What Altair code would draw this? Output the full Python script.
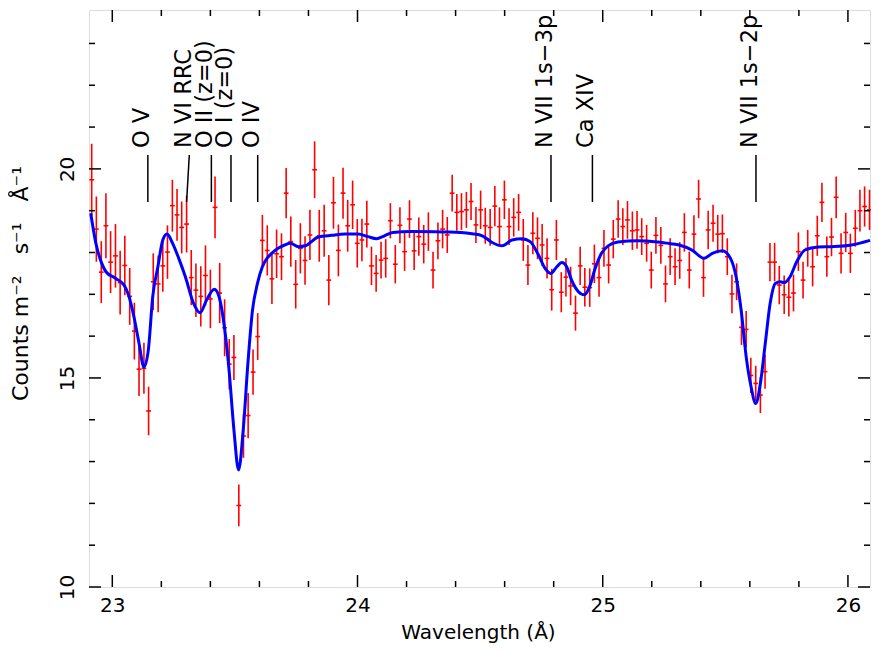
import altair as alt
import pandas as pd

# ---------------- data ----------------
wavelength = [
    22.916, 22.935, 22.955, 22.974, 22.993, 23.013, 23.032, 23.051, 23.071, 23.090,
    23.109, 23.129, 23.148, 23.167, 23.187, 23.206, 23.225, 23.245, 23.264, 23.283,
    23.303, 23.322, 23.341, 23.361, 23.380, 23.400, 23.419, 23.438, 23.458, 23.477,
    23.496, 23.516, 23.535, 23.554, 23.574, 23.593, 23.612, 23.632, 23.651, 23.670,
    23.690, 23.709, 23.728, 23.748, 23.767, 23.786, 23.806, 23.825, 23.844, 23.864,
    23.883, 23.902, 23.922, 23.941, 23.960, 23.980, 23.999, 24.018, 24.038, 24.057,
    24.076, 24.096, 24.115, 24.134, 24.154, 24.173, 24.192, 24.212, 24.231, 24.250,
    24.270, 24.289, 24.308, 24.328, 24.347, 24.366, 24.386, 24.405, 24.424, 24.444,
    24.463, 24.483, 24.502, 24.521, 24.541, 24.560, 24.579, 24.599, 24.618, 24.637,
    24.657, 24.676, 24.695, 24.715, 24.734, 24.753, 24.773, 24.792, 24.811, 24.831,
    24.850, 24.869, 24.889, 24.908, 24.927, 24.947, 24.966, 24.985, 25.005, 25.024,
    25.043, 25.063, 25.082, 25.101, 25.121, 25.140, 25.159, 25.179, 25.198, 25.217,
    25.237, 25.256, 25.275, 25.295, 25.314, 25.333, 25.353, 25.372, 25.391, 25.411,
    25.430, 25.450, 25.469, 25.488, 25.508, 25.527, 25.546, 25.566, 25.585, 25.604,
    25.624, 25.643, 25.662, 25.682, 25.701, 25.720, 25.740, 25.759, 25.778, 25.798,
    25.817, 25.836, 25.856, 25.875, 25.894, 25.914, 25.933, 25.952, 25.972, 25.991,
    26.010, 26.030, 26.049, 26.068, 26.088,
]
flux = [
    19.74, 18.56, 17.53, 18.64, 17.77, 17.92, 17.28, 17.69, 16.95, 16.12,
    15.21, 15.23, 14.21, 17.30, 17.25, 17.68, 18.01, 19.12, 18.90, 18.60,
    18.68, 17.40, 17.10, 16.95, 17.45, 16.89, 19.08, 17.03, 16.20, 15.33,
    15.49, 11.95, 13.61, 14.10, 15.14, 15.99, 18.29, 18.05, 17.37, 17.97,
    17.90, 19.42, 18.26, 17.24, 18.10, 17.81, 18.42, 19.98, 18.40, 18.52,
    17.34, 19.19, 18.05, 19.42, 18.64, 19.14, 18.22, 18.30, 18.68, 17.68,
    17.50, 17.82, 17.86, 18.76, 17.72, 18.65, 18.02, 18.80, 18.04, 18.38,
    18.20, 18.50, 17.58, 18.28, 18.56, 18.42, 19.42, 18.96, 18.98, 19.02,
    19.22, 18.66, 19.02, 18.64, 18.60, 19.11, 18.62, 19.26, 18.62, 18.84,
    18.96, 18.30, 17.70, 18.46, 18.34, 18.18, 17.86, 17.11, 18.30, 17.05,
    17.41, 17.20, 16.55, 17.68, 17.17, 17.16, 17.73, 17.40, 18.10, 17.70,
    18.32, 18.80, 18.62, 18.78, 18.52, 18.54, 18.38, 18.22, 17.58, 18.41,
    18.17, 17.25, 17.90, 17.66, 17.81, 18.48, 17.58, 18.44, 19.28, 17.40,
    18.54, 18.70, 18.44, 18.45, 17.90, 17.01, 17.30, 16.21, 16.16, 15.06,
    14.87, 14.59, 15.15, 17.77, 17.77, 17.22, 16.99, 16.93, 17.03, 18.02,
    17.34, 18.10, 17.66, 18.40, 19.20, 17.90, 18.37, 19.32, 17.98, 18.48,
    17.98, 18.58, 19.00, 19.10, 19.02,
]
flux_err = [
    0.86, 0.78, 0.74, 0.78, 0.74, 0.76, 0.76, 0.71, 0.68, 0.68,
    0.64, 0.61, 0.58, 0.68, 0.68, 0.62, 0.64, 0.62, 0.62, 0.62,
    0.68, 0.66, 0.64, 0.72, 0.72, 0.70, 0.74, 0.72, 0.68, 0.60,
    0.54, 0.50, 0.52, 0.54, 0.54, 0.56, 0.61, 0.60, 0.60, 0.58,
    0.56, 0.60, 0.60, 0.58, 0.60, 0.58, 0.60, 0.68, 0.62, 0.62,
    0.60, 0.62, 0.62, 0.61, 0.62, 0.58, 0.58, 0.51, 0.56, 0.46,
    0.44, 0.44, 0.46, 0.42, 0.46, 0.43, 0.46, 0.45, 0.46, 0.46,
    0.46, 0.46, 0.44, 0.44, 0.46, 0.43, 0.44, 0.44, 0.44, 0.43,
    0.44, 0.43, 0.46, 0.43, 0.44, 0.48, 0.46, 0.46, 0.44, 0.46,
    0.44, 0.50, 0.48, 0.50, 0.50, 0.50, 0.48, 0.50, 0.48, 0.48,
    0.46, 0.46, 0.42, 0.46, 0.46, 0.46, 0.46, 0.46, 0.44, 0.44,
    0.46, 0.45, 0.44, 0.45, 0.46, 0.45, 0.44, 0.44, 0.44, 0.44,
    0.44, 0.44, 0.44, 0.44, 0.44, 0.46, 0.44, 0.45, 0.46, 0.46,
    0.46, 0.44, 0.46, 0.46, 0.44, 0.46, 0.44, 0.42, 0.44, 0.42,
    0.42, 0.43, 0.41, 0.46, 0.46, 0.46, 0.46, 0.46, 0.44, 0.46,
    0.44, 0.44, 0.47, 0.48, 0.47, 0.48, 0.46, 0.50, 0.48, 0.47,
    0.47, 0.44, 0.50, 0.48, 0.48,
]
bin_half_width = 0.0097

model_wave = [
    22.912, 22.933, 22.957, 22.974, 23.014, 23.048, 23.068, 23.088, 23.109, 23.129,
    23.147, 23.165, 23.186, 23.206, 23.223, 23.246, 23.271, 23.298, 23.331, 23.358,
    23.385, 23.416, 23.435, 23.457, 23.476, 23.496, 23.515, 23.534, 23.553, 23.572,
    23.592, 23.612, 23.631, 23.650, 23.676, 23.703, 23.726, 23.759, 23.787, 23.840,
    23.894, 23.949, 24.002, 24.043, 24.077, 24.110, 24.144, 24.218, 24.354, 24.421,
    24.468, 24.509, 24.549, 24.590, 24.630, 24.671, 24.704, 24.738, 24.765, 24.788,
    24.813, 24.833, 24.853, 24.873, 24.900, 24.925, 24.947, 24.967, 24.995, 25.022,
    25.062, 25.143, 25.224, 25.278, 25.312, 25.366, 25.413, 25.447, 25.488, 25.521,
    25.544, 25.566, 25.585, 25.605, 25.624, 25.643, 25.663, 25.683, 25.704, 25.724,
    25.741, 25.764, 25.791, 25.825, 25.879, 25.933, 26.014, 26.090,
]
model_flux = [
    18.94, 18.22, 17.74, 17.54, 17.38, 17.22, 16.95, 16.47, 15.83, 15.26,
    15.67, 16.95, 17.66, 18.30, 18.44, 18.22, 17.86, 17.42, 16.79, 16.56,
    16.87, 17.12, 16.95, 16.23, 15.20, 13.76, 12.80, 13.76, 15.35, 16.63,
    17.26, 17.66, 17.86, 17.98, 18.10, 18.18, 18.22, 18.14, 18.16, 18.37,
    18.41, 18.44, 18.44, 18.38, 18.33, 18.40, 18.48, 18.50, 18.49, 18.48,
    18.45, 18.40, 18.24, 18.16, 18.30, 18.33, 18.26, 17.94, 17.62, 17.50,
    17.66, 17.76, 17.66, 17.34, 17.07, 16.99, 17.19, 17.58, 17.98, 18.16,
    18.25, 18.28, 18.25, 18.21, 18.18, 18.05, 17.86, 17.98, 18.04, 17.86,
    17.42, 16.55, 15.51, 14.79, 14.39, 14.87, 15.83, 16.79, 17.26, 17.30,
    17.28, 17.42, 17.78, 18.06, 18.13, 18.14, 18.18, 18.29,
]

line_names = ["O V", "N VI RRC", "O II (z=0)", "O I (z=0)", "O IV",
              "N VII 1s\u22123p", "Ca XIV", "N VII 1s\u22122p"]
line_wave_bottom = [23.145, 23.303, 23.404, 23.484, 23.593, 24.789, 24.958, 25.625]
line_wave_top = [23.145, 23.314, 23.404, 23.484, 23.593, 24.789, 24.958, 25.625]
label_wave = [23.151, 23.322, 23.408, 23.488, 23.597, 24.793, 24.962, 25.629]

x_major_ticks = [23.0, 24.0, 25.0, 26.0]
x_minor_ticks = [23.2, 23.4, 23.6, 23.8, 24.2, 24.4, 24.6, 24.8,
                 25.2, 25.4, 25.6, 25.8]
y_major_ticks = [10, 15, 20]
y_minor_ticks = [11, 12, 13, 14, 16, 17, 18, 19, 21, 22, 23]

# ---------------- chart ----------------
W, H = 781, 577
FONT = "DejaVu Sans"
RED = "#ff0000"
BLUE = "#0000ff"

xs = alt.Scale(domain=[22.905, 26.09], nice=False, zero=False)
ys = alt.Scale(domain=[10, 23.8], nice=False, zero=False)

pts = pd.DataFrame({"w": wavelength, "f": flux, "e": flux_err})
pts["lo"] = pts["f"] - pts["e"]
pts["hi"] = pts["f"] + pts["e"]
pts["wl"] = pts["w"] - bin_half_width
pts["wh"] = pts["w"] + bin_half_width

model = pd.DataFrame({"w": model_wave, "f": model_flux})
lines = pd.DataFrame({"name": line_names, "wb": line_wave_bottom,
                      "wt": line_wave_top, "wl": label_wave})

NB = "\u00a0"
X_TITLE = "Wavelength (\u00c5)"
Y_TITLE = ("Counts m\u207b\u00b2" + NB * 3 + "s\u207b\u00b9" + NB * 3
           + "\u00c5\u207b\u00b9")

x_axis = alt.Axis(title=X_TITLE, values=x_major_ticks, format="d",
                  ticks=False, tickSize=0, domain=False, grid=False,
                  labelPadding=8, labelFontSize=20, titleFontSize=20,
                  labelFont=FONT, titleFont=FONT, labelColor="black",
                  titleColor="black", titleFontWeight="normal",
                  titleX=389, titleY=51, titleBaseline="alphabetic",
                  titleAlign="center", labelFlush=False)
y_axis = alt.Axis(title=Y_TITLE,
                  values=y_major_ticks, ticks=False, tickSize=0, domain=False,
                  grid=False, labelAngle=270, labelAlign="center",
                  labelBaseline="alphabetic", labelPadding=16, labelFontSize=20,
                  titleFontSize=22, labelFont=FONT, titleFont=FONT,
                  labelColor="black", titleColor="black", titleFontWeight="normal",
                  titleAngle=270, titleX=-62, titleY=273, titleAlign="center",
                  titleBaseline="alphabetic", labelFlush=False)


def X(field):
    return alt.X(field, scale=xs, axis=x_axis, title=X_TITLE)


def Y(field):
    return alt.Y(field, scale=ys, axis=y_axis, title=Y_TITLE)


err_v = alt.Chart(pts).mark_rule(color=RED, strokeWidth=1.6).encode(
    x=X("w:Q"), y=Y("lo:Q"), y2="hi:Q",
)
err_h = alt.Chart(pts).mark_rule(color=RED, strokeWidth=1.6).encode(
    x=X("wl:Q"), x2="wh:Q", y=Y("f:Q"),
)
model_line = alt.Chart(model).mark_line(color=BLUE, strokeWidth=3,
                                        interpolate="monotone").encode(
    x=X("w:Q"), y=Y("f:Q"),
)
markers = alt.Chart(lines).mark_rule(color="black", strokeWidth=1.5).encode(
    x=X("wb:Q"), x2="wt:Q", y=alt.value(192), y2=alt.value(145),
)
labels = alt.Chart(lines).mark_text(angle=270, align="left", baseline="alphabetic",
                                    font=FONT, fontSize=22.5, color="black").encode(
    x=X("wl:Q"), y=alt.value(138), text="name:N",
)


def xticks(vals, length):
    d = pd.DataFrame({"t": vals})
    bottom = alt.Chart(d).mark_rule(color="black", strokeWidth=1.5).encode(
        x=X("t:Q"), y=alt.value(H), y2=alt.value(H - length))
    top = alt.Chart(d).mark_rule(color="black", strokeWidth=1.5).encode(
        x=X("t:Q"), y=alt.value(0), y2=alt.value(length))
    return [bottom, top]


def yticks(vals, length):
    d = pd.DataFrame({"t": vals})
    left = alt.Chart(d).mark_rule(color="black", strokeWidth=1.5).encode(
        y=Y("t:Q"), x=alt.value(0), x2=alt.value(length))
    right = alt.Chart(d).mark_rule(color="black", strokeWidth=1.5).encode(
        y=Y("t:Q"), x=alt.value(W), x2=alt.value(W - length))
    return [left, right]


tick_layers = (xticks(x_major_ticks, 12) + xticks(x_minor_ticks, 6)
               + yticks(y_major_ticks, 12) + yticks(y_minor_ticks, 6))

chart = alt.layer(err_v, err_h, model_line, markers, labels, *tick_layers).properties(
    width=W, height=H,
    autosize=alt.AutoSizeParams(type="none"),
    padding={"left": 81, "top": 2, "right": 1, "bottom": 57},
).configure_view(stroke="black", strokeWidth=1.8).configure(background="white")

chart.save("out.html", embed_options={"renderer": "svg", "actions": False})
